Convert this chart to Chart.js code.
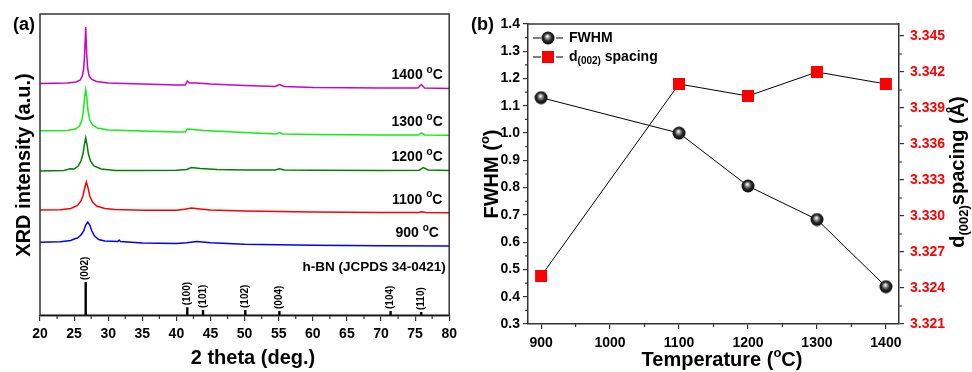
<!DOCTYPE html>
<html>
<head>
<meta charset="utf-8">
<script src="https://cdn.jsdelivr.net/npm/chart.js@4.4.0/dist/chart.umd.min.js"></script>
<style>
  html, body { margin: 0; padding: 0; background: #fff; }
  #wrap { position: relative; width: 972px; height: 372px; overflow: hidden; }
  #cA { position: absolute; left: 0; top: 0; }
  #cB { position: absolute; left: 462px; top: 0; }
</style>
</head>
<body>
<div id="wrap">
  <canvas id="cA" width="462" height="372"></canvas>
  <canvas id="cB" width="510" height="372"></canvas>
</div>
<script>
// ---- panel (a): XRD patterns, [2theta, intensity a.u.] ----
var xrd1400 = [[20,232.5],[24,233],[25.3,234],[25.9,236],[26.2,240],[26.4,247],[26.55,262],[26.7,289],[26.85,262],[27.0,247],[27.2,240],[27.6,236.5],[28.3,234.5],[30,233],[35,232],[40,231],[41.3,231],[41.6,235],[41.9,233],[43,233],[45,232],[50,230.5],[54.5,229.5],[55.1,231.5],[55.8,229.5],[60,228.5],[70,228],[75.4,228],[75.9,231.5],[76.4,228],[80,227.5]];
var xrd1300 = [[20,185.3],[24,185.5],[25.2,187],[25.8,190],[26.15,196],[26.36,205],[26.55,219],[26.7,226],[26.85,219],[27.04,205],[27.3,196],[27.7,191],[28.4,188],[30,186],[35,185],[40,184],[41.3,184],[41.6,187],[42.5,186.5],[44,185.5],[50,183.5],[54.6,182],[55.1,183.5],[55.6,182],[60,181.5],[70,181],[75.5,181],[75.9,183],[76.4,181],[80,180.8]];
var xrd1200 = [[20,145],[23.5,145.5],[24.4,147.3],[25.0,147],[25.6,150],[26.0,155],[26.3,162],[26.5,171],[26.7,178],[26.9,171],[27.1,162],[27.4,155],[27.9,150],[29,147],[31,145.5],[35,145.5],[40,145.8],[41.5,146.5],[42.2,148.5],[43.5,147.5],[46,146.5],[50,146],[54.5,146],[55.1,147.3],[55.8,146],[60,145.8],[70,145.5],[75.6,145.8],[76.2,148.5],[76.9,146],[80,145.5]];
var xrd1100 = [[20,106],[23,106.3],[24.5,107.5],[25.5,110.5],[26.0,115],[26.3,120],[26.55,128],[26.8,134],[27.05,128],[27.3,120],[27.7,114],[28.3,110],[29.5,107.5],[31,106.5],[35,105.8],[40,105.8],[41.2,106.8],[42.2,108],[43.5,107],[45,106],[50,105],[55,104.5],[60,104],[70,103.5],[75.5,103.5],[76,104.3],[76.6,103.5],[80,103.3]];
var xrd900 = [[20,73.7],[23,74.3],[24.5,75.5],[25.2,77.5],[25.5,78],[26.0,81],[26.4,85],[26.7,91],[27.0,94],[27.3,91],[27.6,85],[28.0,80],[28.6,76.5],[29.5,75],[31.4,74.5],[31.6,76],[31.8,74.5],[35,73],[40,72.5],[41.5,73.3],[43,74.5],[45,73.2],[50,71.8],[55,71.2],[60,70.8],[70,70.3],[80,70]];
var xrdNames = ['1400 °C', '1300 °C', '1200 °C', '1100 °C', '900 °C'];
var xrdColors = ['#CC00CC', '#11EE11', '#008000', '#FF0000', '#0000FF'];

// h-BN reference pattern (JCPDS 34-0421)
var stickPos = [26.7, 41.6, 43.9, 50.1, 55.1, 71.4, 75.9];
var stickInt = [34, 8.7, 6, 6, 5, 5, 4];
var stickHkl = ['(002)', '(100)', '(101)', '(102)', '(004)', '(104)', '(110)'];
var stickBase = 1;

var thetaTicks = [20, 25, 30, 35, 40, 45, 50, 55, 60, 65, 70, 75, 80];
var thetaMinor = [22.5, 27.5, 32.5, 37.5, 42.5, 47.5, 52.5, 57.5, 62.5, 67.5, 72.5, 77.5];

// ---- panel (b): FWHM and d(002) vs temperature ----
var temps = [900, 1100, 1200, 1300, 1400];
var fwhm = [1.13, 1.00, 0.806, 0.683, 0.437];
var dSpacing = [3.3250, 3.3410, 3.3400, 3.3420, 3.3410];

var tempTicks = [900, 1000, 1100, 1200, 1300, 1400];
var tempMinor = [950, 1050, 1150, 1250, 1350];
var fwhmTicks = [0.3, 0.4, 0.5, 0.6, 0.7, 0.8, 0.9, 1.0, 1.1, 1.2, 1.3, 1.4];
var fwhmMinor = [0.35, 0.45, 0.55, 0.65, 0.75, 0.85, 0.95, 1.05, 1.15, 1.25, 1.35];
var dTicks = [3.321, 3.324, 3.327, 3.330, 3.333, 3.336, 3.339, 3.342, 3.345];
var dMinor = [3.3225, 3.3255, 3.3285, 3.3315, 3.3345, 3.3375, 3.3405, 3.3435];

var FONT = '"Liberation Sans", Arial, Helvetica, sans-serif';
var AX = '#333';
function bf(sz) { return 'bold ' + sz + 'px ' + FONT; }

// draw text made of parts [text, size, dy]
function rich(ctx, parts, x, y, align) {
  var w = 0;
  parts.forEach(function (p) { ctx.font = bf(p[1]); w += ctx.measureText(p[0]).width; });
  var cx = align === 'center' ? x - w / 2 : (align === 'right' ? x - w : x);
  ctx.textAlign = 'left';
  ctx.textBaseline = 'middle';
  parts.forEach(function (p) {
    ctx.font = bf(p[1]);
    ctx.fillText(p[0], cx, y + (p[2] || 0));
    cx += ctx.measureText(p[0]).width;
  });
}
function richUp(ctx, parts, x, y) {
  ctx.save();
  ctx.translate(x, y);
  ctx.rotate(-Math.PI / 2);
  rich(ctx, parts, 0, 0, 'center');
  ctx.restore();
}
function minor(ctx, scale, vals, len, side) {
  ctx.save();
  ctx.strokeStyle = AX;
  ctx.lineWidth = 1.2;
  ctx.beginPath();
  vals.forEach(function (v) {
    var p = scale.getPixelForValue(v);
    if (side === 'bottom') { ctx.moveTo(p, scale.top); ctx.lineTo(p, scale.top + len); }
    if (side === 'left') { ctx.moveTo(scale.right, p); ctx.lineTo(scale.right - len, p); }
    if (side === 'right') { ctx.moveTo(scale.left, p); ctx.lineTo(scale.left + len, p); }
  });
  ctx.stroke();
  ctx.restore();
}
function setTicks(list) {
  return function (scale) { scale.ticks = list.map(function (v) { return { value: v }; }); };
}
function tickFont() { return { family: FONT, size: 14, weight: 'bold' }; }
function plain(v) { return String(v); }

function toXY(arr) { return arr.map(function (p) { return { x: p[0], y: p[1] }; }); }

// ---------- chart (a) ----------
var stickData = [];
stickPos.forEach(function (p, i) {
  stickData.push({ x: p, y: stickBase }, { x: p, y: stickInt[i] }, { x: p, y: null });
});
var series = [xrd1400, xrd1300, xrd1200, xrd1100, xrd900];
var dsA = series.map(function (s, i) {
  return { data: toXY(s), borderColor: xrdColors[i], borderWidth: 1.5, pointRadius: 0, tension: 0 };
});
dsA.push({ data: stickData, borderColor: '#000', borderWidth: 2.4, borderCapStyle: 'butt', pointRadius: 0, spanGaps: false });
dsA.push({ data: [{ x: 20, y: stickBase }, { x: 80, y: stickBase }], borderColor: '#000', borderWidth: 1, pointRadius: 0 });

var decoA = {
  id: 'decoA',
  afterDraw: function (chart) {
    var ctx = chart.ctx, a = chart.chartArea, xs = chart.scales.x, ys = chart.scales.y;
    ctx.save();
    ctx.strokeStyle = AX;
    ctx.lineWidth = 1.5;
    ctx.beginPath();
    ctx.moveTo(a.left, a.bottom); ctx.lineTo(a.left, a.top); ctx.lineTo(a.right, a.top); ctx.lineTo(a.right, a.bottom);
    ctx.stroke();
    minor(ctx, xs, thetaMinor, 3, 'bottom');
    ctx.fillStyle = '#000';
    // curve labels, centred above the tail of each pattern
    series.forEach(function (s, i) {
      var last = s[s.length - 1];
      var y = ys.getPixelForValue(last[1]) - 13;
      var parts = xrdNames[i].split(' °');
      rich(ctx, [[parts[0] + ' ', 14, 0], ['o', 10, -5], [parts[1], 14, 0]], xs.getPixelForValue(75.3), y, 'center');
    });
    rich(ctx, [['h-BN (JCPDS 34-0421)', 13.5, 0]], xs.getPixelForValue(79.5), ys.getPixelForValue(49), 'right');
    // hkl labels over the sticks
    stickPos.forEach(function (p, i) {
      ctx.save();
      ctx.translate(xs.getPixelForValue(p), ys.getPixelForValue(stickInt[i]) - 2);
      ctx.rotate(-Math.PI / 2);
      ctx.font = bf(10);
      ctx.textAlign = 'left';
      ctx.textBaseline = 'middle';
      ctx.fillText(stickHkl[i], 0, 0);
      ctx.restore();
    });
    richUp(ctx, [['XRD intensity (a.u.)', 20, 0]], 24, 165);
    rich(ctx, [['2 theta (deg.)', 20, 0]], 253, 358, 'center');
    rich(ctx, [['(a)', 18, 0]], 13, 25, 'left');
    ctx.restore();
  }
};

new Chart(document.getElementById('cA'), {
  type: 'line',
  data: { datasets: dsA },
  options: {
    responsive: false,
    animation: false,
    layout: { padding: { left: 40, right: 9, top: 14, bottom: 0 } },
    plugins: { legend: { display: false }, tooltip: { enabled: false } },
    scales: {
      x: {
        type: 'linear', min: 20, max: 80, offset: false,
        afterBuildTicks: setTicks(thetaTicks),
        afterFit: function (s) { s.height = 56; },
        grid: { drawOnChartArea: false, drawTicks: true, tickLength: 5, color: AX, lineWidth: 1.2 },
        border: { display: true, color: AX, width: 1.5 },
        ticks: { font: tickFont(), color: '#000', padding: 5, maxRotation: 0, autoSkip: false, callback: plain }
      },
      y: { type: 'linear', min: 0, max: 302, display: false }
    }
  },
  plugins: [decoA]
});

// ---------- chart (b) ----------
function sphere() {
  var c = document.createElement('canvas');
  c.width = 14; c.height = 14;
  var g = c.getContext('2d');
  var gr = g.createRadialGradient(6.3, 5.2, 0.3, 7, 7, 7);
  gr.addColorStop(0, '#ffffff');
  gr.addColorStop(0.22, '#a0a0a0');
  gr.addColorStop(0.55, '#2a2a2a');
  gr.addColorStop(1, '#000000');
  g.fillStyle = gr;
  g.beginPath(); g.arc(7, 7, 6.5, 0, Math.PI * 2); g.fill();
  return c;
}
var ball = sphere();

var decoB = {
  id: 'decoB',
  afterDraw: function (chart) {
    var ctx = chart.ctx, a = chart.chartArea;
    ctx.save();
    ctx.strokeStyle = AX;
    ctx.lineWidth = 1.5;
    ctx.beginPath(); ctx.moveTo(a.left, a.top); ctx.lineTo(a.right, a.top); ctx.stroke();
    minor(ctx, chart.scales.x, tempMinor, 3, 'bottom');
    minor(ctx, chart.scales.y, fwhmMinor, 3, 'left');
    minor(ctx, chart.scales.y1, dMinor, 3, 'right');
    // legend
    ctx.strokeStyle = '#000';
    ctx.lineWidth = 1;
    ctx.beginPath();
    ctx.moveTo(71, 38); ctx.lineTo(79, 38); ctx.moveTo(94, 38); ctx.lineTo(101, 38);
    ctx.moveTo(71, 57); ctx.lineTo(79, 57); ctx.moveTo(94, 57); ctx.lineTo(101, 57);
    ctx.stroke();
    ctx.drawImage(ball, 86 - 7, 38 - 7);
    ctx.fillStyle = '#FF0000';
    ctx.fillRect(86 - 6, 57 - 6, 12, 12);
    ctx.fillStyle = '#000';
    rich(ctx, [['FWHM', 14, 0]], 107, 38, 'left');
    rich(ctx, [['d', 14, 0], ['(002)', 10, 4], [' spacing', 14, 0]], 107, 57, 'left');
    // axis titles
    richUp(ctx, [['FWHM (', 20, 0], ['o', 13, -7], [')', 20, 0]], 30, 174);
    ctx.save();
    ctx.translate(496, 172);
    ctx.rotate(-Math.PI / 2);
    rich(ctx, [['d', 20, 0], ['(002)', 13, 6], ['spacing (Å)', 20, 0]], 0, 0, 'center');
    ctx.restore();
    rich(ctx, [['Temperature (', 20, 0], ['o', 13, -7], ['C)', 20, 0]], 260, 360, 'center');
    rich(ctx, [['(b)', 18, 0]], 9, 25, 'left');
    ctx.restore();
  }
};

new Chart(document.getElementById('cB'), {
  type: 'line',
  data: {
    datasets: [
      {
        data: temps.map(function (t, i) { return { x: t, y: dSpacing[i] }; }),
        yAxisID: 'y1', borderColor: '#000', borderWidth: 1,
        pointStyle: 'rect', pointRadius: 8.5, pointBackgroundColor: '#FF0000', pointBorderColor: '#FF0000', pointBorderWidth: 0
      },
      {
        data: temps.map(function (t, i) { return { x: t, y: fwhm[i] }; }),
        yAxisID: 'y', borderColor: '#000', borderWidth: 1,
        pointStyle: ball, pointRadius: 7
      }
    ]
  },
  options: {
    responsive: false,
    animation: false,
    layout: { padding: { left: 0, right: 0, top: 24, bottom: 0 } },
    plugins: { legend: { display: false }, tooltip: { enabled: false } },
    scales: {
      x: {
        type: 'linear', min: 881, max: 1419, offset: false,
        afterBuildTicks: setTicks(tempTicks),
        afterFit: function (s) { s.height = 48; },
        grid: { drawOnChartArea: false, drawTicks: true, tickLength: 5, color: AX, lineWidth: 1.2 },
        border: { display: true, color: AX, width: 1.5 },
        ticks: { font: tickFont(), color: '#000', padding: 6, maxRotation: 0, autoSkip: false, callback: plain }
      },
      y: {
        type: 'linear', position: 'left', min: 0.3, max: 1.4,
        afterBuildTicks: setTicks(fwhmTicks),
        afterFit: function (s) { s.width = 66; },
        grid: { drawOnChartArea: false, drawTicks: true, tickLength: 5, color: AX, lineWidth: 1.2 },
        border: { display: true, color: AX, width: 1.5 },
        ticks: { font: tickFont(), color: '#000', padding: 3, autoSkip: false, callback: function (v) { return v.toFixed(1); } }
      },
      y1: {
        type: 'linear', position: 'right', min: 3.321, max: 3.346,
        afterBuildTicks: setTicks(dTicks),
        afterFit: function (s) { s.width = 73; },
        grid: { drawOnChartArea: false, drawTicks: true, tickLength: 5, color: AX, lineWidth: 1.2 },
        border: { display: true, color: AX, width: 1.5 },
        ticks: { font: tickFont(), color: '#FF0000', padding: 6, autoSkip: false, callback: function (v) { return v.toFixed(3); } }
      }
    }
  },
  plugins: [decoB]
});
</script>
</body>
</html>
